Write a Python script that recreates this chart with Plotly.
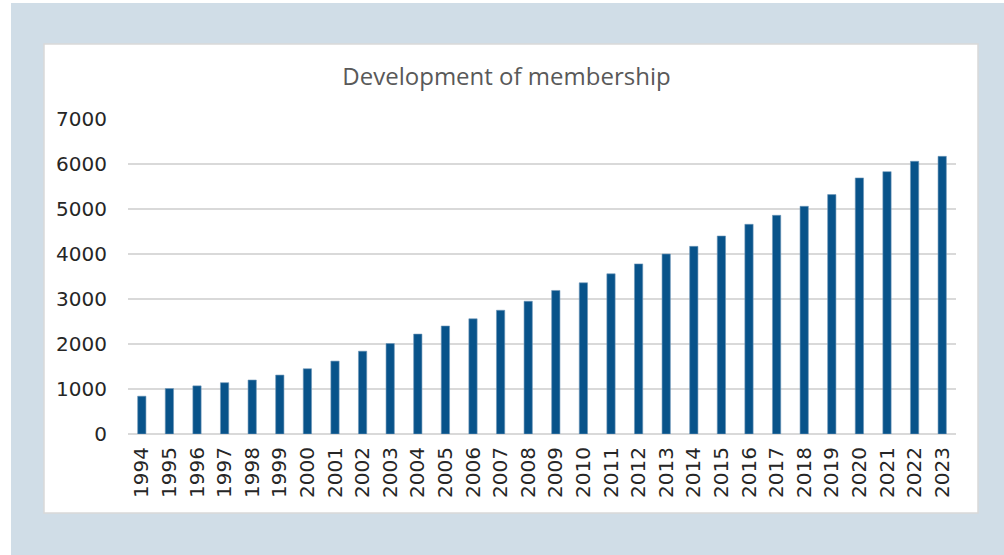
import plotly.graph_objects as go

years = [str(y) for y in range(1994, 2024)]
members = [840, 1010, 1070, 1140, 1200, 1310, 1450, 1620, 1840, 2010,
           2220, 2400, 2560, 2750, 2950, 3190, 3360, 3560, 3780, 4000,
           4170, 4400, 4660, 4860, 5060, 5320, 5690, 5830, 6060, 6170]
y_ticks = [0, 1000, 2000, 3000, 4000, 5000, 6000, 7000]

W, H = 1004, 555
L, R, T, B = 128, 956, 119, 434  # plot area in pixels


def px_x(p):
    return (p - L) / (R - L)


def px_y(p):
    return (B - p) / (B - T)


fig = go.Figure(go.Bar(
    x=years, y=members,
    marker=dict(color="#08538a", line=dict(color="#6f97b8", width=0.6)),
    width=0.3,
    hoverinfo="x+y",
))

shapes = [
    # outer blue frame
    dict(type="rect", xref="paper", yref="paper", x0=px_x(11), x1=px_x(W + 5),
         y0=px_y(H + 5), y1=px_y(3), fillcolor="#d0dde7", line=dict(width=0),
         layer="below"),
    # white panel
    dict(type="rect", xref="paper", yref="paper", x0=px_x(44), x1=px_x(978),
         y0=px_y(513), y1=px_y(44), fillcolor="white",
         line=dict(color="#d9d9d9", width=1.5), layer="below"),
]

fig.update_layout(
    width=W, height=H,
    margin=dict(l=L, r=W - R, t=T, b=H - B, pad=0),
    paper_bgcolor="white",
    plot_bgcolor="rgba(0,0,0,0)",
    shapes=shapes,
    showlegend=False,
    bargap=0.7,
    title=dict(text="Development of membership", x=506.5 / W, xanchor="center",
               y=1 - 77 / H, yanchor="middle",
               font=dict(family="Open Sans", size=24, color="#595959")),
    font=dict(family="DejaVu Sans", size=20, color="#262626"),
)
fig.update_xaxes(
    type="category", tickangle=-90, showgrid=False, showline=False,
    ticks="", ticklabelstandoff=8, tickfont=dict(size=20, color="#262626"),
)
fig.update_yaxes(
    range=[0, 7000], tickvals=y_ticks, ticktext=[str(v) for v in y_ticks],
    showgrid=True, gridcolor="#d9d9d9", gridwidth=1.5,
    zeroline=True, zerolinecolor="#d9d9d9", zerolinewidth=1.5,
    showline=False, ticks="", ticklabelstandoff=20,
    tickfont=dict(size=20, color="#262626"),
)

fig.write_html(
    "out.html",
    config={"displayModeBar": False},
    post_script="document.body.style.margin='0';document.body.style.padding='0';",
)
